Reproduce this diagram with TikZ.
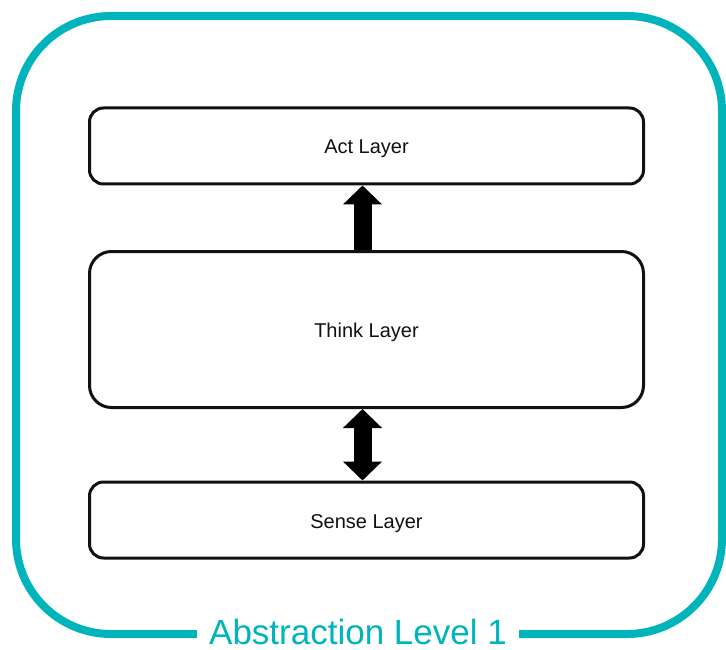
\documentclass[tikz,border=0pt]{standalone}
\usepackage{fontspec}
\setmainfont{Liberation Sans}
\usetikzlibrary{arrows.meta,positioning}
\definecolor{levelteal}{HTML}{00B4BC}
\definecolor{ink}{HTML}{111111}
\tikzset{
  layer/.style={draw=ink,fill=white,line width=3pt,rounded corners=14pt,
                minimum width=554pt,minimum height=76pt,font=\fontsize{20}{24}\selectfont,
                text=ink,text height=16pt,text depth=0pt},
  levelframe/.style={draw=levelteal,line width=8pt,rounded corners=95pt,
                     minimum width=706pt,minimum height=618pt},
  levellabel/.style={fill=white,text=levelteal,inner xsep=12pt,inner ysep=0pt,
                     font=\fontsize{35}{40}\selectfont},
  bigarr/.style={-{Triangle[width=38pt,length=19pt]},line width=18pt,draw=black}
}
\begin{document}
\begin{tikzpicture}[x=1pt,y=-1pt]
  \path[use as bounding box] (0,0) rectangle (726,650);
  % outer frame with its caption on the bottom edge
  \node[levelframe] (level) at (369,325) {};
  \node[levellabel,anchor=base] (caption) at ([xshift=-11pt,yshift=-6pt]level.south)
    {Abstraction Level 1};
  % the three layers
  \node[layer] (act) at (366.5,146) {Act Layer};
  \node[layer,minimum height=156pt,rounded corners=22pt] (think) at (366.5,329.5) {Think Layer};
  \node[layer] (sense) at (366.5,520) {Sense Layer};
  % connectors
  \draw[bigarr] ([xshift=-4pt]think.north) -- ([xshift=-4pt]act.south);
  \draw[bigarr,{Triangle[width=38pt,length=19pt]}-{Triangle[width=38pt,length=19pt]}]
    ([xshift=-4pt]think.south) -- ([xshift=-4pt]sense.north);
\end{tikzpicture}
\end{document}
